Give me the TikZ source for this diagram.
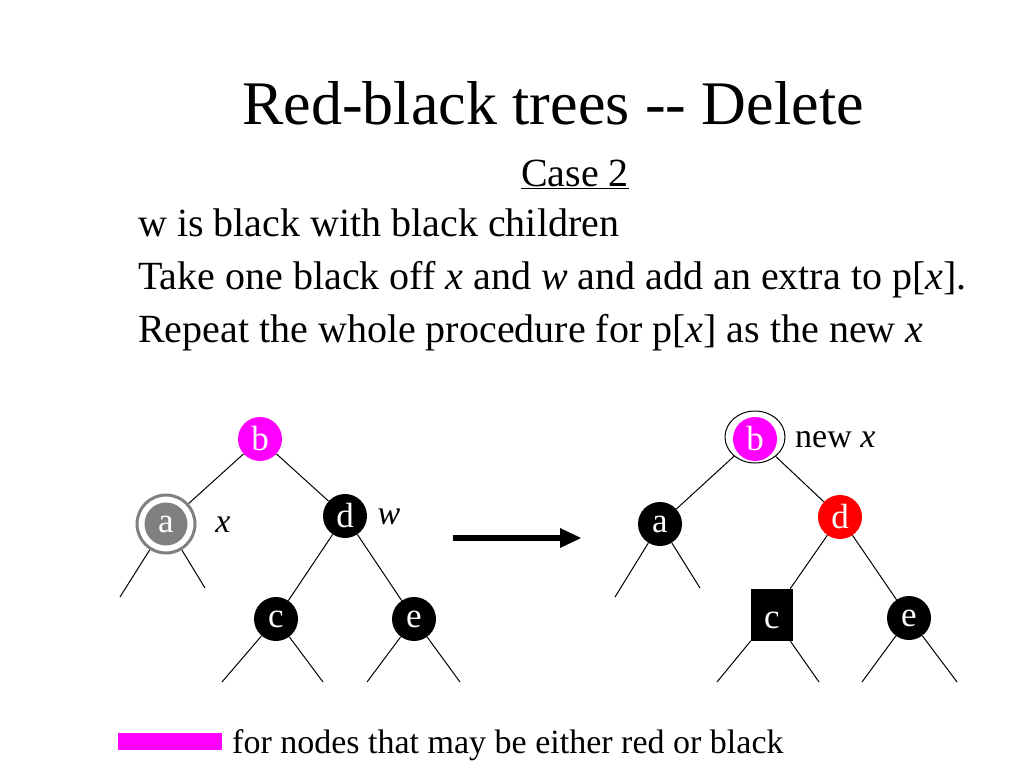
\documentclass[tikz,border=0pt]{standalone}
\usepackage{fontspec}
\setmainfont{Liberation Serif}
\usetikzlibrary{shapes.geometric}
\definecolor{mag}{RGB}{255,0,255}
\definecolor{rbred}{RGB}{255,0,0}
\definecolor{agray}{RGB}{128,128,128}
\begin{document}
\begin{tikzpicture}[x=1pt,y=-1pt,
  rb/.style={circle,inner sep=0pt,minimum size=44pt,text=white,font=\fontsize{35}{38}\selectfont},
  blk/.style={rb,fill=black},
  edge/.style={draw=black,line width=1pt},
  lbl/.style={inner sep=0pt,font=\fontsize{34}{38}\selectfont},
  txt/.style={anchor=base west,inner sep=0pt,font=\fontsize{40}{44}\selectfont}]
\useasboundingbox (0,0) rectangle (1024,768);
% texts
\node[anchor=base,inner sep=0pt,font=\fontsize{62}{68}\selectfont] (title) at (553,124) {Red-black trees -{}- Delete};
\node[anchor=base,inner sep=0pt,font=\fontsize{40}{44}\selectfont] (case) at (575,186) {\underline{Case 2}};
\node[txt] (l1) at (138,236) {w is black with black children};
\node[txt] (l2) at (138,289) {Take one black off \textit{x} and \textit{w} and add an extra to p[\textit{x}].};
\node[txt] (l3) at (138,342) {Repeat the whole procedure for p[\textit{x}] as the new \textit{x}};
% left tree
\node[rb,fill=mag] (lb) at (260,439) {b};
\node[rb,fill=agray,minimum size=43pt] (la) at (166,524) {a};
\node[circle,draw=agray,line width=3pt,minimum size=58pt,inner sep=0pt] (lar) at (166,524) {};
\node[blk] (ld) at (345,516) {d};
\node[blk] (lc) at (276,619) {c};
\node[blk] (le) at (414,619) {e};
\node[lbl,anchor=base,font=\fontsize{34}{38}\selectfont\itshape] (lx) at (223,532) {x};
\node[lbl,anchor=base,font=\fontsize{34}{38}\selectfont\itshape] (lw) at (389,524) {w};
\coordinate (la1) at (120,597);
\coordinate (la2) at (205,588);
\coordinate (lc1) at (222,682);
\coordinate (lc2) at (323,682);
\coordinate (le1) at (367,682);
\coordinate (le2) at (460,682);
\draw[edge] (lb) -- (lar);
\draw[edge] (lb) -- (ld);
\draw[edge] (ld) -- (lc);
\draw[edge] (ld) -- (le);
\draw[edge] (lar) -- (la1);
\draw[edge] (lar) -- (la2);
\draw[edge] (lc) -- (lc1);
\draw[edge] (lc) -- (lc2);
\draw[edge] (le) -- (le1);
\draw[edge] (le) -- (le2);
% arrow
\coordinate (as) at (453,538);
\coordinate (ae) at (581,538);
\draw[line width=6pt] (as) -- (562,538);
\fill (ae) -- (560,528) -- (560,548) -- cycle;
% right tree
\node[rb,fill=mag] (rb) at (755,439) {b};
\node[ellipse,draw=black,line width=1pt,minimum width=60pt,minimum height=52pt,inner sep=0pt] (rbr) at (755,437) {};
\node[lbl,anchor=base west] (nx) at (795,447) {new \textit{x}};
\node[blk] (ra) at (660,524) {a};
\node[rb,fill=rbred] (rd) at (840,517) {d};
\node[rectangle,fill=black,inner sep=0pt,minimum width=42pt,minimum height=52pt] (rc) at (772,615) {};
\node[inner sep=0pt,anchor=base,text=white,font=\fontsize{35}{38}\selectfont] (rcl) at (772,628) {c};
\node[blk] (re) at (909,618) {e};
\coordinate (ra1) at (615,597);
\coordinate (ra2) at (700,588);
\coordinate (rc1) at (717,682);
\coordinate (rc2) at (819,682);
\coordinate (re1) at (862,682);
\coordinate (re2) at (957,682);
\draw[edge] (rbr) -- (ra);
\draw[edge] (rbr) -- (rd);
\draw[edge] (rd) -- (rc);
\draw[edge] (rd) -- (re);
\draw[edge] (ra) -- (ra1);
\draw[edge] (ra) -- (ra2);
\draw[edge] (rc) -- (rc1);
\draw[edge] (rc) -- (rc2);
\draw[edge] (re) -- (re1);
\draw[edge] (re) -- (re2);
% legend
\node[rectangle,fill=mag,inner sep=0pt,minimum width=104pt,minimum height=17pt] (leg) at (170,741.5) {};
\node[lbl,anchor=base west] (legt) at (232,753) {for nodes that may be either red or black};
\end{tikzpicture}
\end{document}
